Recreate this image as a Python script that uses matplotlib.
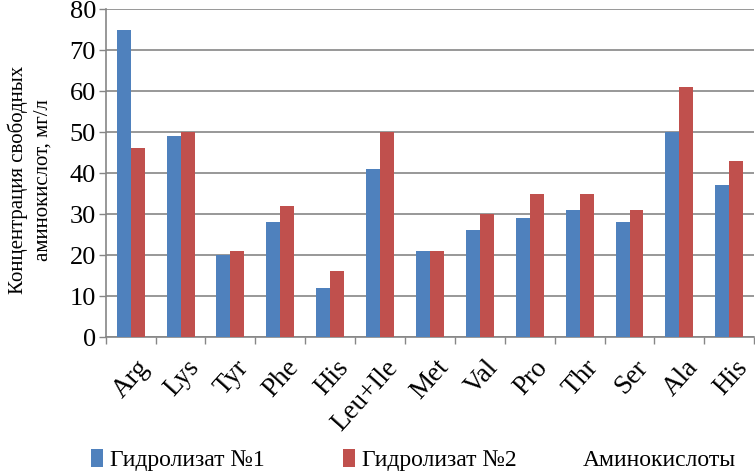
import matplotlib
matplotlib.use("Agg")
import matplotlib.pyplot as plt
import numpy as np
from matplotlib.patches import Patch

categories = ["Arg", "Lys", "Tyr", "Phe", "His", "Leu+Ile", "Met", "Val",
              "Pro", "Thr", "Ser", "Ala", "His"]
hydro1 = [75, 49, 20, 28, 12, 41, 21, 26, 29, 31, 28, 50, 37]
hydro2 = [46, 50, 21, 32, 16, 50, 21, 30, 35, 35, 31, 61, 43]
series_names = ["Гидролизат №1", "Гидролизат №2"]
colors = ["#4F81BD", "#C0504D"]

plt.rcParams["font.family"] = ["Liberation Serif", "DejaVu Serif"]

fig = plt.figure(figsize=(7.55, 4.76), dpi=100)
ax = fig.add_axes([0.14, 0.292, 0.859, 0.689])

x = np.arange(len(categories))
w = 0.28
ax.bar(x - w / 2, hydro1, w, color=colors[0], zorder=3)
ax.bar(x + w / 2, hydro2, w, color=colors[1], zorder=3)

ax.set_xlim(-0.5, len(categories) - 0.5)
ax.set_ylim(0, 80)
ax.set_yticks(range(0, 81, 10))
ax.yaxis.grid(True, color="#868686", linewidth=1.2, zorder=0)
ax.set_axisbelow(True)

# category boundaries as outward ticks
ax.set_xticks(np.arange(-0.5, len(categories), 1.0))
ax.set_xticklabels([])
ax.set_xticks(x + 0.1, minor=True)
ax.set_xticklabels(categories, minor=True, rotation=48, ha="right",
                   rotation_mode="anchor", fontsize=19.5)
ax.tick_params(axis="x", which="minor", length=0, pad=13)
ax.tick_params(axis="x", which="major", length=5, color="#868686", width=1)
ax.tick_params(axis="y", length=5, color="#868686", width=1, labelsize=19, pad=2)

for side in ("top", "right"):
    ax.spines[side].set_visible(False)
for side in ("left", "bottom"):
    ax.spines[side].set_color("#868686")
    ax.spines[side].set_linewidth(1.2)

ax.set_ylabel("Концентрация свободных\nаминокислот, мг/л", fontsize=15,
              linespacing=1.4)
ax.yaxis.set_label_coords(-0.082, 0.48)

# legend entries placed separately, like the original layout
for (c, n, xpos) in zip(colors, series_names, (0.121, 0.454)):
    fig.legend(handles=[Patch(facecolor=c, label=n)], loc="center left",
               bbox_to_anchor=(xpos, 0.033), frameon=False, fontsize=17,
               handlelength=0.5, handleheight=0.8, handletextpad=0.3,
               borderpad=0, borderaxespad=0)
fig.text(0.772, 0.033, "Аминокислоты", fontsize=17, va="center", ha="left")

fig.savefig("out.png", dpi=100)
